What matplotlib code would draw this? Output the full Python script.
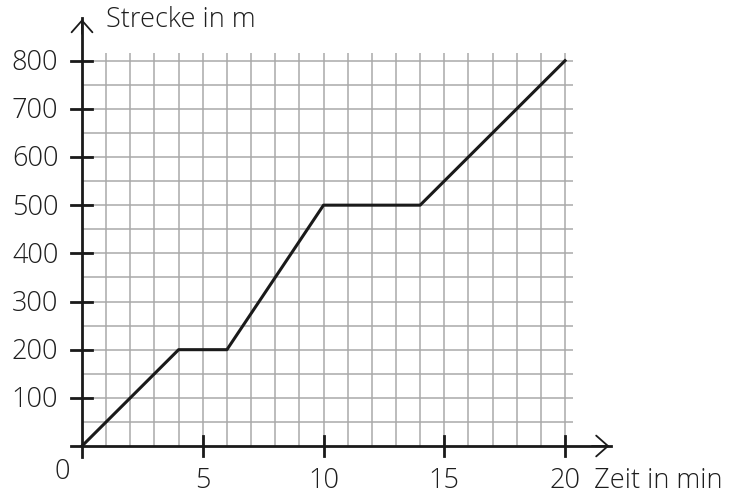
import matplotlib.pyplot as plt

# data
zeit = [0, 4, 6, 10, 14, 20]
strecke = [0, 200, 200, 500, 500, 800]
x_ticks = [5, 10, 15, 20]
y_ticks = [100, 200, 300, 400, 500, 600, 700, 800]
x_grid = list(range(1, 21))
y_grid = list(range(50, 801, 50))

plt.rcParams["font.family"] = ["Open Sans", "DejaVu Sans"]
plt.rcParams["font.weight"] = "light"

fig = plt.figure(figsize=(7.37, 4.94), dpi=100)
ax = fig.add_axes([0.0785, 0.0484, 0.7537, 0.9263])
ax.set_xlim(-1, 22)
ax.set_ylim(-50, 900)
ax.axis("off")

grid_col = "#a9a9a9"
ax.vlines(x_grid, 0, 816, color=grid_col, lw=1.1, zorder=1)
ax.hlines(y_grid, 0, 20.33, color=grid_col, lw=1.1, zorder=1)

# axes with open arrow heads
ax.plot([-0.46, 21.9], [0, 0], color="#1a1a1a", lw=2, zorder=3, clip_on=False)
ax.plot([0, 0], [-23, 888], color="#1a1a1a", lw=2, zorder=3, clip_on=False)
arrow = dict(arrowstyle="->,head_length=0.85,head_width=0.75", lw=1.3, color="#1a1a1a")
ax.annotate("", xy=(21.95, 0), xytext=(21.0, 0), arrowprops=arrow)
ax.annotate("", xy=(0, 892), xytext=(0, 850), arrowprops=arrow)

txt = dict(fontsize=19.5, color="#1e1e1e")

# ticks
for t in x_ticks:
    ax.plot([t, t], [-21, 21], color="#1a1a1a", lw=2, zorder=3, clip_on=False)
    ax.text(t, -72, str(t), ha="center", va="center", **txt)
for t in y_ticks:
    ax.plot([-0.45, 0.42], [t, t], color="#1a1a1a", lw=2, zorder=3, clip_on=False)
    ax.text(-0.98, t - 5, str(t), ha="right", va="center", **txt)
ax.text(-0.8, -53, "0", ha="center", va="center", **txt)

ax.text(21.22, -72, "Zeit in min", ha="left", va="center", **txt)
ax.text(1.0, 885, "Strecke in m", ha="left", va="center", **txt)

ax.plot(zeit, strecke, color="#1a1a1a", lw=2.2, zorder=4, clip_on=False)

fig.savefig("out.png", dpi=100)
